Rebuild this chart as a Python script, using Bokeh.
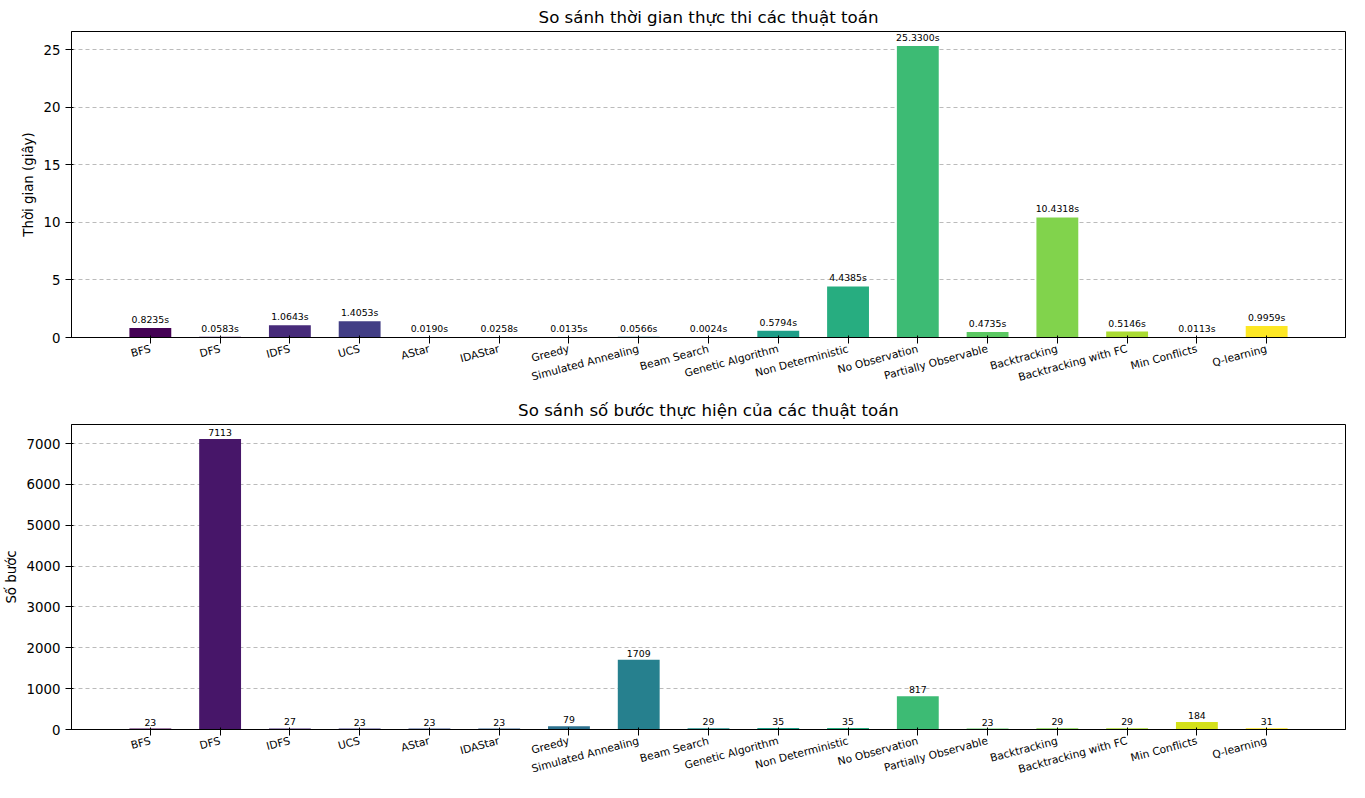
from bokeh.plotting import figure
from bokeh.layouts import column
from bokeh.models import Range1d, FixedTicker
from bokeh.core.properties import value
from bokeh.palettes import viridis
from bokeh.embed import file_html
from bokeh.resources import INLINE
import math

algorithms = ["BFS", "DFS", "IDFS", "UCS", "AStar", "IDAStar", "Greedy", "Simulated Annealing",
              "Beam Search", "Genetic Algorithm", "Non Deterministic", "No Observation",
              "Partially Observable", "Backtracking", "Backtracking with FC", "Min Conflicts", "Q-learning"]
times = [0.8235, 0.0583, 1.0643, 1.4053, 0.0190, 0.0258, 0.0135, 0.0566, 0.0024, 0.5794,
         4.4385, 25.3300, 0.4735, 10.4318, 0.5146, 0.0113, 0.9959]
steps = [23, 7113, 27, 23, 23, 23, 79, 1709, 29, 35, 35, 817, 23, 29, 29, 184, 31]

colors = viridis(len(algorithms))
xs = list(range(len(algorithms)))


def make_plot(title, vals, labels, ylabel, ymax, ticks, h):
    p = figure(width=1349, height=h, output_backend="svg", toolbar_location=None,
               x_range=Range1d(-1.13, 17.13), y_range=Range1d(0, ymax),
               min_border_left=67, min_border_right=4, min_border_top=30)
    p.title.text = title
    p.title.align = "center"
    p.title.text_font_size = "12.5pt"
    p.title.text_font_style = "normal"
    p.title.text_font = "DejaVu Sans"
    p.title.text_color = "black"
    p.vbar(x=xs, top=vals, width=0.6, fill_color=colors, line_color=None)
    p.text(x=xs, y=vals, text=labels, text_align="center", text_baseline="bottom",
           y_offset=-3, text_font_size="7pt", text_font=value("DejaVu Sans"), text_color="black")
    p.xaxis.ticker = FixedTicker(ticks=xs)
    p.xaxis.major_label_overrides = {i: a for i, a in enumerate(algorithms)}
    p.xaxis.major_label_orientation = math.radians(15)
    p.xaxis.major_label_text_font_size = "8pt"
    p.yaxis.ticker = FixedTicker(ticks=ticks)
    p.yaxis.axis_label = ylabel
    p.yaxis.axis_label_text_font_style = "normal"
    p.yaxis.axis_label_text_font_size = "10pt"
    p.yaxis.major_label_text_font_size = "10pt"
    for ax in (p.xaxis, p.yaxis):
        ax.major_label_text_font = "DejaVu Sans"
        ax.axis_label_text_font = "DejaVu Sans"
        ax.major_label_text_color = "black"
        ax.axis_label_text_color = "black"
        ax.minor_tick_line_color = None
    p.xgrid.grid_line_color = None
    p.ygrid.grid_line_dash = "4 3"
    p.ygrid.grid_line_color = "#bbbbbb"
    p.outline_line_color = "black"
    return p


p1 = make_plot("So sánh thời gian thực thi các thuật toán", times,
               [f"{v:.4f}s" for v in times], "Thời gian (giây)", 26.6, [0, 5, 10, 15, 20, 25], 393)
p2 = make_plot("So sánh số bước thực hiện của các thuật toán", steps,
               [str(v) for v in steps], "Số bước", 7469, list(range(0, 8000, 1000)), 392)

layout = column(p1, p2, spacing=0)
open("out.html", "w").write(file_html(layout, INLINE))
